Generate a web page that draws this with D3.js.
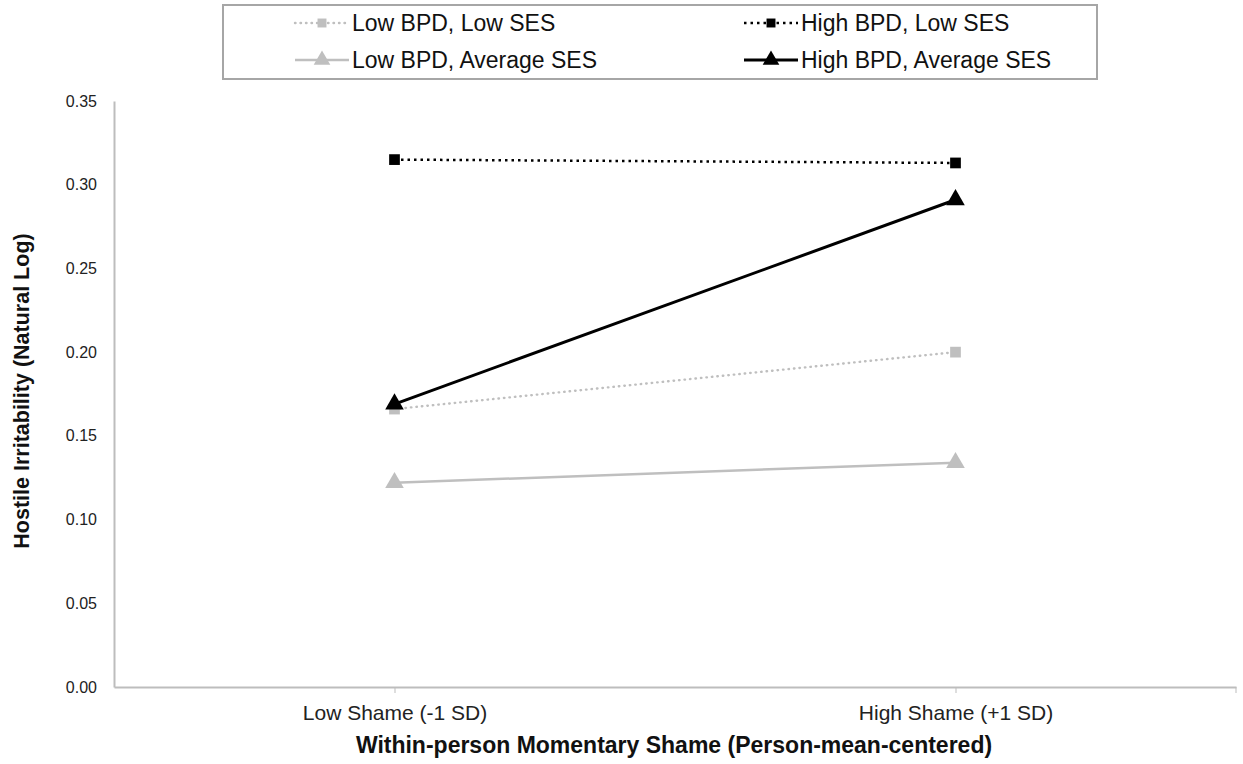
<!DOCTYPE html>
<html>
<head>
<meta charset="utf-8">
<script src="https://cdn.jsdelivr.net/npm/d3@7"></script>
<style>
  body { margin: 0; background: #fff; }
  text { font-family: "Liberation Sans", Arial, sans-serif; }
</style>
</head>
<body>
<svg id="chart" width="1243" height="764"></svg>
<script>
const categories = ["Low Shame (-1 SD)", "High Shame (+1 SD)"];
const lowBpdLowSes = [0.166, 0.200];
const highBpdLowSes = [0.315, 0.313];
const lowBpdAvgSes = [0.122, 0.134];
const highBpdAvgSes = [0.169, 0.291];
const yTicks = [0.00, 0.05, 0.10, 0.15, 0.20, 0.25, 0.30, 0.35];

const series = [
    { name: "Low BPD, Low SES", values: lowBpdLowSes, color: "#bfbfbf", dash: "0.5,5", cap: "round", width: 2.4, marker: "square" },
    { name: "High BPD, Low SES", values: highBpdLowSes, color: "#000", dash: "2.5,4", cap: "butt", width: 2.5, marker: "square" },
    { name: "Low BPD, Average SES", values: lowBpdAvgSes, color: "#bfbfbf", dash: null, cap: "butt", width: 2.5, marker: "triangle" },
    { name: "High BPD, Average SES", values: highBpdAvgSes, color: "#000", dash: null, cap: "butt", width: 3, marker: "triangle" }
];

const margin = { top: 101, right: 7, bottom: 77, left: 114 };
const width = 1243, height = 764;
const innerWidth = width - margin.left - margin.right;
const innerHeight = height - margin.top - margin.bottom;

const svg = d3.select("#chart");
const g = svg.append("g").attr("transform", `translate(${margin.left},${margin.top})`);

const xScale = d3.scalePoint().domain(categories).range([0, innerWidth]).padding(0.5);
const yScale = d3.scaleLinear().domain([0, 0.35]).range([innerHeight, 0]);

// y axis
const yAxis = d3.axisLeft(yScale).tickValues(yTicks).tickFormat(d3.format(".2f")).tickSize(0).tickPadding(17);
const yg = g.append("g").attr("class", "y-axis").call(yAxis);
yg.select(".domain").attr("stroke", "#bdbdbd").attr("stroke-width", 2);
yg.selectAll("text").attr("font-size", 16).attr("fill", "#222").attr("font-family", "Liberation Sans, Arial, sans-serif");

// x axis
const xAxis = d3.axisBottom(xScale).tickSize(6).tickSizeOuter(0).tickPadding(12);
const xg = g.append("g").attr("class", "x-axis").attr("transform", `translate(0,${innerHeight})`).call(xAxis);
xg.select(".domain").attr("stroke", "#bdbdbd").attr("stroke-width", 2);
xg.selectAll(".tick line").attr("stroke", "#bdbdbd");
xg.selectAll("text").attr("font-size", 21).attr("fill", "#222").attr("font-family", "Liberation Sans, Arial, sans-serif");
xg.append("line").attr("x1", innerWidth).attr("x2", innerWidth).attr("y1", 0).attr("y2", 6).attr("stroke", "#bdbdbd");

// axis titles
svg.append("text")
    .attr("x", 674)
    .attr("y", 753)
    .attr("text-anchor", "middle")
    .attr("font-size", 23)
    .attr("font-weight", "bold")
    .attr("fill", "#111")
    .text("Within-person Momentary Shame (Person-mean-centered)");

svg.append("text")
    .attr("transform", `translate(29,${margin.top + innerHeight / 2 - 3}) rotate(-90)`)
    .attr("text-anchor", "middle")
    .attr("font-size", 21.5)
    .attr("font-weight", "bold")
    .attr("fill", "#111")
    .text("Hostile Irritability (Natural Log)");

const line = d3.line()
    .x((d, i) => xScale(categories[i]))
    .y(d => yScale(d));

const squareSym = d3.symbol().type(d3.symbolSquare).size(115);
const triSym = d3.symbol().type(d3.symbolTriangle).size(150);

series.forEach(s => {
    g.append("path")
        .datum(s.values)
        .attr("fill", "none")
        .attr("stroke", s.color)
        .attr("stroke-width", s.width)
        .attr("stroke-dasharray", s.dash)
        .attr("stroke-linecap", s.cap)
        .attr("d", line);

    g.selectAll(null)
        .data(s.values)
        .join("path")
        .attr("transform", (d, i) => `translate(${xScale(categories[i])},${yScale(d)})`)
        .attr("d", s.marker === "square" ? squareSym : triSym)
        .attr("fill", s.color);
});

// legend
const legend = svg.append("g");
legend.append("rect")
    .attr("x", 223).attr("y", 5)
    .attr("width", 874).attr("height", 74)
    .attr("fill", "#fff")
    .attr("stroke", "#a6a6a6")
    .attr("stroke-width", 2);

const legendPos = [
    { x: 295, y: 23 }, { x: 744, y: 23 },
    { x: 295, y: 60 }, { x: 744, y: 60 }
];

series.forEach((s, i) => {
    const p = legendPos[i];
    const item = legend.append("g").attr("transform", `translate(${p.x},${p.y})`);
    item.append("line")
        .attr("x1", 0).attr("x2", 54)
        .attr("stroke", s.color)
        .attr("stroke-width", s.width)
        .attr("stroke-dasharray", s.dash)
        .attr("stroke-linecap", s.cap);
    item.append("path")
        .attr("transform", "translate(27,0)")
        .attr("d", s.marker === "square" ? d3.symbol().type(d3.symbolSquare).size(80)() : d3.symbol().type(d3.symbolTriangle).size(120)())
        .attr("fill", s.color);
    item.append("text")
        .attr("x", 57)
        .attr("dy", "0.36em")
        .attr("font-size", 23)
        .attr("fill", "#111")
        .text(s.name);
});
</script>
</body>
</html>
